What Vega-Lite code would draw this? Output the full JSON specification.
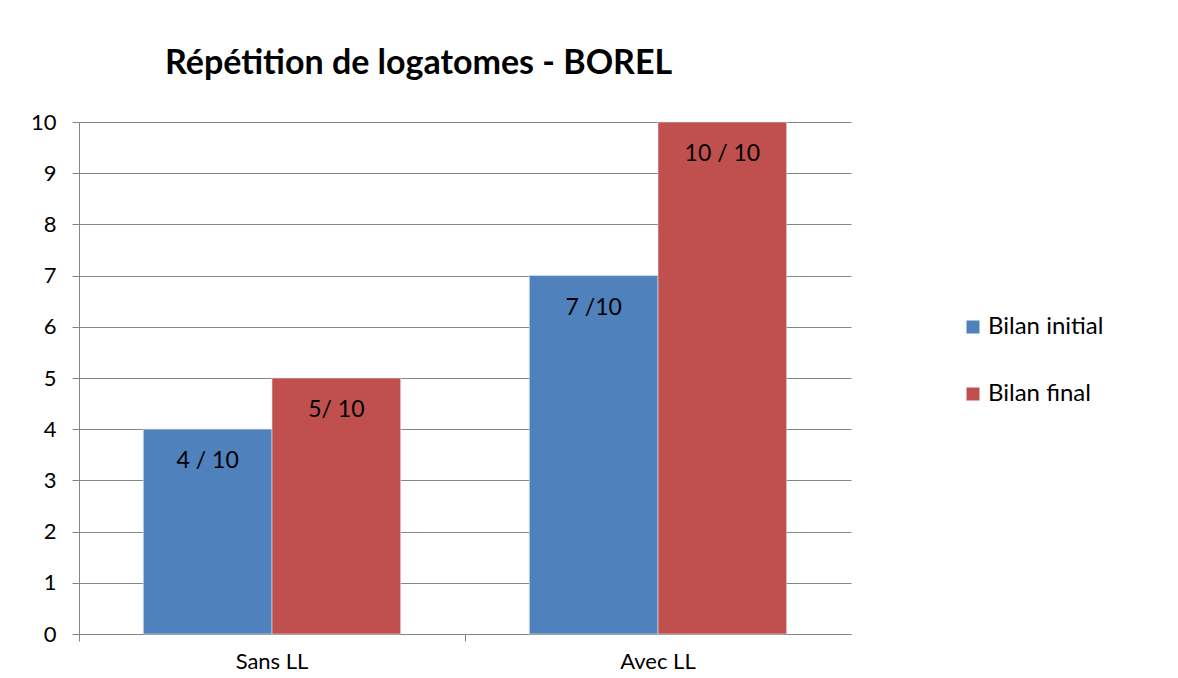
{
  "$schema": "https://vega.github.io/schema/vega-lite/v6.json",
  "width": 772,
  "height": 512,
  "autosize": {"type": "none"},
  "padding": {"left": 79, "top": 122, "right": 327, "bottom": 44},
  "background": "white",
  "config": {
    "view": {"stroke": null},
    "font": "Lato"
  },
  "title": {
    "text": "Répétition de logatomes - BOREL",
    "anchor": "start",
    "frame": "group",
    "dx": 86,
    "fontSize": 34,
    "fontWeight": "bold",
    "font": "Lato",
    "color": "#000000",
    "offset": 30
  },
  "data": {
    "values": [
      {"groupe": "Sans LL", "bilan": "Bilan initial", "score": 4, "label": "4 / 10"},
      {"groupe": "Sans LL", "bilan": "Bilan final", "score": 5, "label": "5/ 10"},
      {"groupe": "Avec LL", "bilan": "Bilan initial", "score": 7, "label": "7 /10"},
      {"groupe": "Avec LL", "bilan": "Bilan final", "score": 10, "label": "10 / 10"}
    ]
  },
  "encoding": {
    "x": {
      "field": "groupe",
      "type": "nominal",
      "sort": ["Sans LL", "Avec LL"],
      "scale": {"paddingInner": 0, "paddingOuter": 0},
      "axis": {
        "title": null,
        "labelAngle": 0,
        "labelFontSize": 22,
        "labelColor": "#000000",
        "labelPadding": 10,
        "bandPosition": 0,
        "tickSize": 7,
        "tickColor": "#868686",
        "domainColor": "#868686",
        "grid": false
      }
    },
    "xOffset": {
      "field": "bilan",
      "type": "nominal",
      "sort": ["Bilan initial", "Bilan final"],
      "scale": {"paddingInner": 0, "paddingOuter": 0.5}
    },
    "y": {
      "field": "score",
      "type": "quantitative",
      "scale": {"domain": [0, 10], "nice": false},
      "axis": {
        "title": null,
        "values": [0, 1, 2, 3, 4, 5, 6, 7, 8, 9, 10],
        "labelFontSize": 22,
        "labelColor": "#000000",
        "labelPadding": 16,
        "tickSize": 7,
        "tickColor": "#868686",
        "domainColor": "#868686",
        "gridColor": "#868686",
        "gridOpacity": 1,
        "grid": true
      }
    }
  },
  "layer": [
    {
      "mark": {"type": "bar", "stroke": "#dfe6f0", "strokeWidth": 0.6},
      "encoding": {
        "color": {
          "field": "bilan",
          "type": "nominal",
          "sort": ["Bilan initial", "Bilan final"],
          "scale": {"domain": ["Bilan initial", "Bilan final"], "range": ["#4F81BD", "#C0504D"]},
          "legend": {
            "title": null,
            "orient": "none",
            "legendX": 882,
            "legendY": 193,
            "symbolType": "square",
            "symbolSize": 169,
            "symbolStrokeWidth": 0,
            "labelFontSize": 24,
            "labelColor": "#000000",
            "labelOffset": 3,
            "rowPadding": 43
          }
        }
      }
    },
    {
      "mark": {"type": "text", "baseline": "middle", "align": "center", "dy": 32, "fontSize": 23, "color": "#000000"},
      "encoding": {
        "text": {"field": "label"}
      }
    }
  ]
}
